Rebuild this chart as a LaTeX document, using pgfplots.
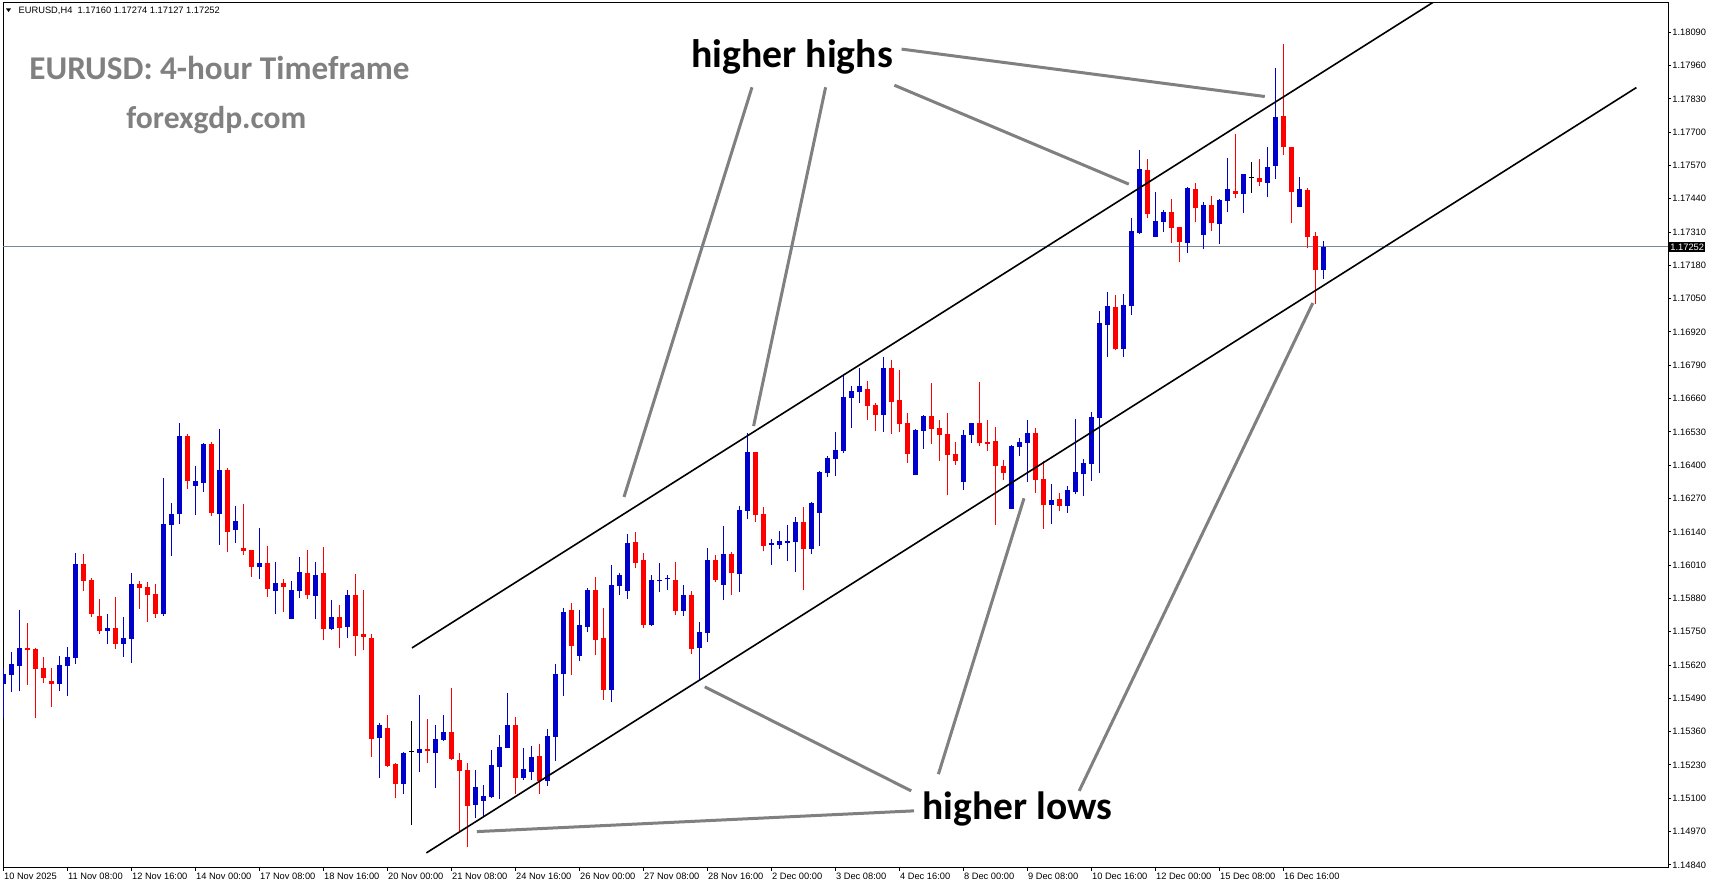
\documentclass[border=0pt]{standalone}
\usepackage{pgfplots}
\pgfplotsset{compat=1.18}
\usepackage{pgfplotstable}
\usepackage{fontspec}
\setmainfont{Liberation Sans}
\newfontfamily\carlito{Carlito}
\newlength\px \setlength\px{0.5pt}
\definecolor{cblue}{RGB}{0,0,205}
\definecolor{cred}{RGB}{255,0,0}
\definecolor{cgray}{RGB}{128,128,128}
\definecolor{pline}{RGB}{119,136,153}

\pgfplotstableread{
x o h l c
0 1.15546 1.15610 1.15415 1.15586
1 1.15582 1.15671 1.15513 1.15625
2 1.15617 1.15835 1.15517 1.15687
7 1.15546 1.15656 1.15520 1.15621
8 1.15617 1.15691 1.15501 1.15652
9 1.15648 1.16058 1.15626 1.16015
13 1.15753 1.15820 1.15703 1.15765
15 1.15703 1.15808 1.15652 1.15726
16 1.15722 1.15980 1.15629 1.15937
20 1.15820 1.16351 1.15812 1.16171
21 1.16167 1.16253 1.16046 1.16210
22 1.16210 1.16565 1.16171 1.16514
24 1.16319 1.16397 1.16206 1.16339
25 1.16331 1.16487 1.16296 1.16483
27 1.16210 1.16542 1.16089 1.16382
29 1.16148 1.16241 1.16098 1.16183
32 1.16004 1.16155 1.15954 1.16019
34 1.15911 1.16023 1.15821 1.15941
36 1.15798 1.15949 1.15798 1.15913
37 1.15911 1.16042 1.15883 1.15984
39 1.15891 1.16023 1.15798 1.15972
41 1.15759 1.15874 1.15755 1.15808
43 1.15770 1.15913 1.15727 1.15894
47 1.15337 1.15392 1.15181 1.15388
50 1.15157 1.15282 1.15115 1.15278
52 1.15278 1.15505 1.15204 1.15294
54 1.15275 1.15388 1.15142 1.15333
55 1.15329 1.15425 1.15325 1.15357
59 1.15074 1.15212 1.15025 1.15145
60 1.15091 1.15153 1.15029 1.15110
61 1.15105 1.15289 1.15101 1.15231
62 1.15223 1.15349 1.15098 1.15301
63 1.15297 1.15512 1.15297 1.15388
65 1.15181 1.15298 1.15173 1.15216
66 1.15204 1.15306 1.15173 1.15261
68 1.15169 1.15372 1.15148 1.15345
69 1.15341 1.15626 1.15247 1.15587
70 1.15587 1.15843 1.15501 1.15827
72 1.15657 1.15835 1.15634 1.15777
73 1.15769 1.15921 1.15749 1.15913
76 1.15524 1.16011 1.15474 1.15933
77 1.15929 1.15980 1.15894 1.15972
78 1.15909 1.16132 1.15878 1.16097
81 1.15777 1.15972 1.15773 1.15952
82 1.15948 1.16019 1.15905 1.15952
83 1.15954 1.15972 1.15913 1.15960
85 1.15831 1.15933 1.15812 1.15894
87 1.15687 1.15788 1.15562 1.15749
88 1.15745 1.16077 1.15710 1.16030
90 1.15933 1.16163 1.15874 1.16054
92 1.15976 1.16241 1.15905 1.16225
93 1.16222 1.16526 1.16190 1.16452
96 1.16089 1.16112 1.16011 1.16097
97 1.16089 1.16143 1.16073 1.16105
98 1.16097 1.16167 1.16026 1.16105
99 1.16101 1.16198 1.15983 1.16179
101 1.16073 1.16257 1.16054 1.16253
102 1.16214 1.16378 1.16085 1.16374
103 1.16370 1.16436 1.16354 1.16428
104 1.16424 1.16530 1.16358 1.16460
105 1.16456 1.16756 1.16448 1.16667
106 1.16663 1.16709 1.16546 1.16690
107 1.16686 1.16780 1.16643 1.16709
110 1.16596 1.16823 1.16530 1.16780
114 1.16360 1.16542 1.16360 1.16538
115 1.16534 1.16597 1.16464 1.16593
120 1.16336 1.16538 1.16305 1.16519
121 1.16519 1.16565 1.16487 1.16565
126 1.16231 1.16480 1.16231 1.16476
127 1.16472 1.16507 1.16437 1.16491
128 1.16487 1.16577 1.16336 1.16526
131 1.16243 1.16325 1.16169 1.16266
133 1.16239 1.16317 1.16215 1.16305
134 1.16297 1.16581 1.16286 1.16372
135 1.16364 1.16425 1.16278 1.16407
136 1.16403 1.16608 1.16340 1.16589
137 1.16585 1.17002 1.16368 1.16956
138 1.16948 1.17077 1.16824 1.17022
140 1.16854 1.17069 1.16824 1.17026
141 1.17022 1.17365 1.16987 1.17314
142 1.17307 1.17631 1.17303 1.17556
144 1.17292 1.17467 1.17292 1.17353
145 1.17351 1.17396 1.17312 1.17389
148 1.17269 1.17486 1.17230 1.17482
150 1.17300 1.17428 1.17242 1.17416
152 1.17343 1.17439 1.17265 1.17435
153 1.17433 1.17599 1.17390 1.17478
155 1.17460 1.17537 1.17386 1.17537
158 1.17503 1.17642 1.17445 1.17564
159 1.17569 1.17951 1.17519 1.17759
162 1.17406 1.17525 1.17406 1.17478
165 1.17160 1.17274 1.17127 1.17252
}\bluecandles

\pgfplotstableread{
x o h l c
3 1.15687 1.15785 1.15543 1.15679
4 1.15683 1.15687 1.15415 1.15605
5 1.15609 1.15652 1.15550 1.15570
6 1.15558 1.15609 1.15458 1.15546
10 1.16015 1.16054 1.15910 1.15949
11 1.15952 1.15960 1.15808 1.15820
12 1.15812 1.15878 1.15742 1.15753
14 1.15765 1.15886 1.15683 1.15703
17 1.15937 1.15949 1.15839 1.15921
18 1.15925 1.15945 1.15789 1.15894
19 1.15898 1.15937 1.15804 1.15820
23 1.16514 1.16522 1.16308 1.16339
26 1.16483 1.16491 1.16202 1.16214
28 1.16382 1.16390 1.16062 1.16140
30 1.16077 1.16249 1.16051 1.16066
31 1.16069 1.16069 1.15965 1.16004
33 1.16019 1.16086 1.15887 1.15915
35 1.15941 1.15956 1.15829 1.15923
38 1.15980 1.16069 1.15876 1.15895
40 1.15980 1.16081 1.15716 1.15759
42 1.15808 1.15855 1.15688 1.15766
44 1.15894 1.15976 1.15657 1.15735
45 1.15743 1.15913 1.15677 1.15731
46 1.15727 1.15743 1.15263 1.15333
48 1.15376 1.15425 1.15224 1.15228
49 1.15232 1.15239 1.15103 1.15157
53 1.15294 1.15410 1.15239 1.15286
56 1.15357 1.15532 1.15251 1.15255
57 1.15250 1.15275 1.14968 1.15208
58 1.15212 1.15239 1.14911 1.15071
64 1.15388 1.15419 1.15117 1.15181
67 1.15265 1.15310 1.15117 1.15169
71 1.15835 1.15862 1.15583 1.15696
74 1.15913 1.15964 1.15661 1.15719
75 1.15726 1.15843 1.15485 1.15524
79 1.16101 1.16140 1.15999 1.16019
80 1.16030 1.16058 1.15765 1.15777
84 1.15952 1.16023 1.15816 1.15831
86 1.15894 1.15909 1.15663 1.15683
89 1.16030 1.16050 1.15944 1.15952
91 1.16054 1.16062 1.15894 1.15980
94 1.16452 1.16452 1.16179 1.16206
95 1.16210 1.16237 1.16065 1.16085
100 1.16179 1.16237 1.15913 1.16073
108 1.16698 1.16729 1.16577 1.16631
109 1.16635 1.16643 1.16534 1.16596
111 1.16780 1.16811 1.16522 1.16647
112 1.16655 1.16772 1.16530 1.16561
113 1.16565 1.16604 1.16409 1.16444
116 1.16593 1.16721 1.16483 1.16542
117 1.16546 1.16577 1.16417 1.16519
118 1.16522 1.16604 1.16282 1.16440
119 1.16444 1.16491 1.16399 1.16417
122 1.16565 1.16725 1.16476 1.16487
123 1.16491 1.16577 1.16456 1.16483
124 1.16495 1.16550 1.16165 1.16395
125 1.16395 1.16421 1.16344 1.16368
129 1.16526 1.16546 1.16293 1.16344
130 1.16348 1.16417 1.16153 1.16243
132 1.16270 1.16293 1.16223 1.16239
139 1.17018 1.17065 1.16848 1.16854
143 1.17553 1.17596 1.17363 1.17382
146 1.17389 1.17439 1.17269 1.17327
147 1.17330 1.17330 1.17195 1.17273
149 1.17478 1.17502 1.17351 1.17402
151 1.17416 1.17451 1.17316 1.17347
154 1.17471 1.17693 1.17441 1.17460
157 1.17521 1.17596 1.17491 1.17507
160 1.17763 1.18044 1.17612 1.17640
161 1.17642 1.17642 1.17347 1.17468
163 1.17474 1.17482 1.17246 1.17292
164 1.17295 1.17311 1.17031 1.17160
}\redcandles

\pgfplotstableread{
x o h l c
51 1.15282 1.15401 1.14994 1.15282
156 1.17521 1.17584 1.17464 1.17521
}\blackcandles

\newcommand\candles[2]{%
\addplot[draw=none, mark=none, forget plot, error bars/.cd, y dir=plus, y explicit, error mark=none,
  error bar style={line width=1\px, draw=#2}]
  table[x=x, y=l, y error expr={\thisrow{h}-\thisrow{l}}] {#1};
\addplot[draw=none, mark=none, forget plot, error bars/.cd, y dir=plus, y explicit, error mark=none,
  error bar style={line width=5\px, draw=#2}]
  table[x=x, y expr={min(\thisrow{o},\thisrow{c})}, y error expr={max(abs(\thisrow{c}-\thisrow{o}),0.000035)}] {#1};
}

\begin{document}
\begin{tikzpicture}[x=0.5pt,y=0.5pt]
\useasboundingbox (0,0) rectangle (1714,888);
\fill[white] (0,0) rectangle (1714,888);
\begin{axis}[
  at={(1.5pt,10pt)}, anchor=south west, scale only axis,
  width=1665\px, height=865\px,
  xmin=-0.025, xmax=208.1, ymin=1.14828, ymax=1.18204,
  axis line style={line width=1\px},
  tick style={line width=1\px, black},
  tick align=outside, major tick length=3\px,
  xtick pos=left, ytick pos=right, yticklabel pos=right,
  xtick={0,8,16,24,32,40,48,56,64,72,80,88,96,104,112,120,128,136,144,152,160},
  xticklabels={10 Nov 2025,11 Nov 08:00,12 Nov 16:00,14 Nov 00:00,17 Nov 08:00,18 Nov 16:00,20 Nov 00:00,21 Nov 08:00,24 Nov 16:00,26 Nov 00:00,27 Nov 08:00,28 Nov 16:00,2 Dec 00:00,3 Dec 08:00,4 Dec 16:00,8 Dec 00:00,9 Dec 08:00,10 Dec 16:00,12 Dec 00:00,15 Dec 08:00,16 Dec 16:00},
  ytick={1.1484,1.1497,1.1510,1.1523,1.1536,1.1549,1.1562,1.1575,1.1588,1.1601,1.1614,1.1627,1.1640,1.1653,1.1666,1.1679,1.1692,1.1705,1.1718,1.1731,1.1744,1.1757,1.1770,1.1783,1.1796,1.1809},
  yticklabels={1.14840,1.14970,1.15100,1.15230,1.15360,1.15490,1.15620,1.15750,1.15880,1.16010,1.16140,1.16270,1.16400,1.16530,1.16660,1.16790,1.16920,1.17050,1.17180,1.17310,1.17440,1.17570,1.17700,1.17830,1.17960,1.18090},
  x tick label style={font=\fontsize{4.65}{5}\selectfont, anchor=north west, inner sep=0pt, xshift=0.5\px, yshift=-2\px},
  y tick label style={font=\fontsize{4.65}{5}\selectfont, anchor=west, inner sep=0pt, xshift=1\px},
]
\addplot[pline, line width=1\px, forget plot] coordinates {(-1,1.17252) (210,1.17252)};
\candles{\bluecandles}{cblue}
\candles{\redcandles}{cred}
\candles{\blackcandles}{black}
% channel
\addplot[black, line width=1.6\px] coordinates {(51.1,1.15687) (178.8,1.18208)};
\addplot[black, line width=1.6\px] coordinates {(52.9,1.14887) (204.15,1.17874)};
% annotation pointers
\addplot[cgray, line width=3\px] coordinates {(93.6,1.17875) (77.6,1.16276)};
\addplot[cgray, line width=3\px] coordinates {(102.8,1.17875) (93.8,1.16553)};
\addplot[cgray, line width=3\px] coordinates {(111.4,1.17883) (140.7,1.17497)};
\addplot[cgray, line width=3\px] coordinates {(112.3,1.18024) (157.7,1.17839)};
\addplot[cgray, line width=3\px] coordinates {(113.85,1.15051) (59.2,1.14970)};
\addplot[cgray, line width=3\px] coordinates {(113.5,1.15129) (87.7,1.15535)};
\addplot[cgray, line width=3\px] coordinates {(116.9,1.15194) (127.6,1.16271)};
\addplot[cgray, line width=3\px] coordinates {(134.5,1.15129) (163.7,1.17033)};
\end{axis}
% header
\fill (6,879.5) -- (11,879.5) -- (8.5,876) -- cycle;
\node[anchor=base west, inner sep=0pt, font=\fontsize{4.65}{5}\selectfont] at (18.3,874) {EURUSD,H4\ \ 1.17160 1.17274 1.17127 1.17252};
% titles
\node[anchor=base west, inner sep=0pt, text=cgray, font=\carlito\bfseries\fontsize{16.6}{18}\selectfont] at (29,808.7) {EURUSD: 4-hour Timeframe};
\node[anchor=base west, inner sep=0pt, text=cgray, font=\carlito\bfseries\fontsize{15.8}{18}\selectfont] at (126,759.7) {forexgdp.com};
\node[anchor=base west, inner sep=0pt, font=\carlito\bfseries\fontsize{19.9}{22}\selectfont] at (690.8,820.2) {higher highs};
\node[anchor=base west, inner sep=0pt, font=\carlito\bfseries\fontsize{19.75}{22}\selectfont] at (922.3,68.7) {higher lows};
% current price tag
\node[anchor=west, fill=black, text=white, inner xsep=1\px, inner ysep=1.5\px, font=\fontsize{4.65}{5}\selectfont] at (1669,641) {1.17252};
\end{tikzpicture}
\end{document}
